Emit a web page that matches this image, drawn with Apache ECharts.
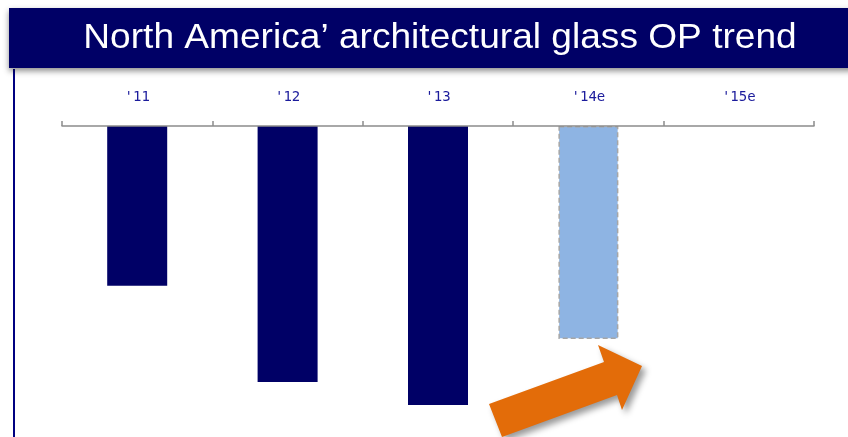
<!DOCTYPE html>
<html>
<head>
<meta charset="utf-8">
<script src="https://cdn.jsdelivr.net/npm/echarts@6/dist/echarts.min.js"></script>
<style>
html, body { margin: 0; padding: 0; background: #fff; }
#main { width: 848px; height: 437px; }
</style>
</head>
<body>
<div id="main"></div>
<script>
var years = ["'11", "'12", "'13", "'14e", "'15e"];
// OP (no scale printed, relative units)
var opValues = [-51.4, -82.3, -89.7, -68.5, null];

var myChart = echarts.init(document.getElementById('main'));

var barData = [];
for (var i = 0; i < years.length; i++) {
    var item = {value: opValues[i]};
    // estimate years get the light fill and dashed border
    if (years[i].indexOf('e') !== -1) {
        item.itemStyle = {
            color: '#8EB4E3',
            borderColor: '#A6A6A6',
            borderWidth: 1.5,
            borderType: [5, 3]
        };
    }
    barData.push(item);
}

var option = {
    animation: false,
    backgroundColor: '#fff',
    grid: {
        left: 62,
        right: 34,
        top: 126,
        bottom: 0
    },
    xAxis: {
        type: 'category',
        position: 'top',
        data: years,
        z: 5,
        axisLine: {lineStyle: {color: '#8C8C8C', width: 1.5}},
        axisTick: {show: true, length: 5, lineStyle: {color: '#8C8C8C', width: 1.5}},
        axisLabel: {
            margin: 22,
            color: '#1C1C9C',
            fontFamily: 'DejaVu Sans Mono',
            fontSize: 14
        }
    },
    yAxis: {
        type: 'value',
        min: -100,
        max: 0,
        show: false,
        splitLine: {show: false}
    },
    series: [{
        type: 'bar',
        barWidth: 60,
        data: barData,
        itemStyle: {color: '#000066'}
    }],
    graphic: [
        {
            type: 'rect',
            shape: {x: 9, y: 8, width: 845, height: 60},
            style: {
                fill: '#000066',
                shadowBlur: 6,
                shadowOffsetY: 3,
                shadowColor: 'rgba(0,0,0,0.45)'
            },
            z: 10
        },
        {
            type: 'text',
            x: 440,
            y: 38,
            scaleX: 1.06,
            style: {
                text: 'North America\u2019 architectural glass OP trend',
                fill: '#fff',
                fontFamily: 'Liberation Sans',
                fontSize: 35,
                align: 'center',
                verticalAlign: 'middle'
            },
            z: 11
        },
        {
            type: 'line',
            shape: {x1: 14, y1: 69, x2: 14, y2: 437},
            style: {stroke: '#000080', lineWidth: 2},
            z: 9
        },
        {
            type: 'polygon',
            shape: {
                points: [[489, 404], [604, 362], [598, 345], [642, 366], [622, 410], [617, 395], [502, 437]]
            },
            style: {
                fill: '#E36C09',
                shadowBlur: 6,
                shadowOffsetX: 4,
                shadowOffsetY: 4,
                shadowColor: 'rgba(0,0,0,0.4)'
            },
            z: 10
        }
    ]
};
myChart.setOption(option);
</script>
</body>
</html>
